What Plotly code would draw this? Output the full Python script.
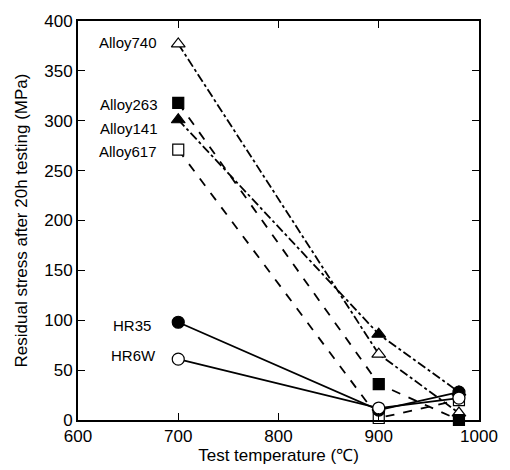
import plotly.graph_objects as go

temps = [700, 900, 980]
alloy740 = [377, 66, 7]
alloy263 = [318, 36, 0]
alloy141 = [301, 86, 28]
alloy617 = [271, 2, 20]
hr35 = [98, 10, 28]
hr6w = [61, 12, 22]

series = [
    ("Alloy740", alloy740, "triangle-up-open", "dashdot", "white"),
    ("Alloy263", alloy263, "square", "dash", "black"),
    ("Alloy141", alloy141, "triangle-up", "dashdot", "black"),
    ("Alloy617", alloy617, "square-open", "dash", "white"),
    ("HR35", hr35, "circle", "solid", "black"),
    ("HR6W", hr6w, "circle-open", "solid", "white"),
]

label_names = ["Alloy740", "Alloy263", "Alloy141", "Alloy617", "HR35", "HR6W"]
label_y = [378, 316, 292, 269, 95, 65]
label_x = [681, 682, 682, 681, 675, 680]

fig = go.Figure()
for name, ys, sym, dash, fill in series:
    fig.add_trace(go.Scatter(
        x=temps, y=ys, mode="lines", name=name,
        line=dict(color="black", width=1.8, dash=dash),
        showlegend=False, cliponaxis=False))
for name, ys, sym, dash, fill in series:
    base = sym.replace("-open", "")
    fig.add_trace(go.Scatter(
        x=temps, y=ys, mode="markers", name=name,
        marker=dict(symbol=base, size=11 if "square" in base else 12,
                    color=fill, line=dict(color="black", width=1.2)),
        showlegend=False, cliponaxis=False))

for n, xx, yy in zip(label_names, label_x, label_y):
    fig.add_annotation(x=xx, y=yy, text=n, showarrow=False, xanchor="right",
                       yanchor="middle", font=dict(size=15, color="black"))

axis_common = dict(showline=True, linecolor="black", linewidth=2, mirror="ticks",
                   ticks="inside", ticklen=7, tickcolor="black", tickwidth=1.2,
                   showgrid=False, zeroline=False,
                   tickfont=dict(size=17, color="black"))
fig.update_xaxes(range=[600, 1000], dtick=100, tick0=600,
                 title=dict(text="Test temperature (℃)", font=dict(size=17, color="black"), standoff=0),
                 **axis_common)
fig.update_yaxes(range=[0, 400], dtick=50, tick0=0,
                 title=dict(text="Residual stress after 20h testing (MPa)", font=dict(size=17, color="black"), standoff=12),
                 **axis_common)
fig.update_layout(width=510, height=470, margin=dict(l=78, r=23, t=19, b=45),
                  plot_bgcolor="white", paper_bgcolor="white",
                  font=dict(family="Liberation Sans, Arial, sans-serif", color="black"))
fig.write_html("out.html")
